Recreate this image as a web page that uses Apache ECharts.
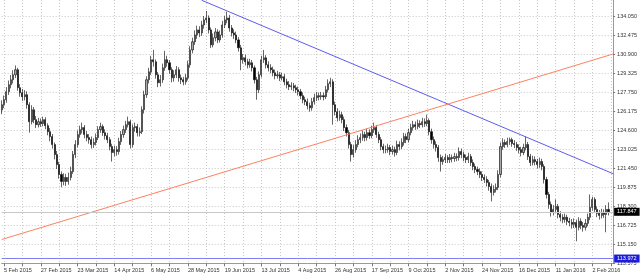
<!DOCTYPE html>
<html>
<head>
<meta charset="utf-8">
<script src="https://cdn.jsdelivr.net/npm/echarts@6/dist/echarts.min.js"></script>
<style>
html,body{margin:0;padding:0;background:#fff;}
#chart{width:640px;height:277px;}
</style>
</head>
<body>
<div id="chart"></div>
<script>
// ---- data ----
const firstDate = '2015-02-04';
const categoryCount = 267;
const holidays = ['2015-12-25', '2016-01-01'];

const opens = [
126.30,126.74,127.15,127.82,128.40,128.81,129.22,129.64,128.15,127.73,
127.40,127.57,126.74,125.33,126.32,125.50,125.08,125.33,125.17,125.50,
125.00,124.50,124.09,123.43,122.60,121.77,120.95,120.37,120.70,120.37,
120.70,121.19,122.60,123.43,124.26,124.67,124.84,124.26,124.01,123.84,
123.43,123.60,124.01,124.67,124.92,124.42,124.17,123.84,123.26,122.77,
123.01,122.85,123.68,124.26,124.67,125.08,125.33,123.43,124.84,124.92,
124.42,124.50,126.32,127.57,128.81,129.47,130.47,130.30,129.22,128.56,
128.81,129.80,130.47,130.22,129.64,128.97,129.22,129.64,128.97,128.81,
128.64,128.97,130.05,131.29,131.96,132.53,132.95,132.70,133.36,133.78,
133.94,132.95,131.71,132.29,132.78,132.12,132.53,133.36,133.78,133.94,
133.11,132.70,132.53,132.12,131.46,130.47,130.63,130.30,130.05,130.22,
129.80,128.81,127.98,129.22,130.47,130.63,130.05,129.80,129.64,129.39,
129.14,129.22,128.97,129.06,128.64,128.40,128.23,128.31,128.15,127.98,
127.82,127.49,127.15,126.99,126.66,126.49,126.99,127.32,127.49,127.40,
127.49,127.40,127.98,128.48,128.64,126.74,126.16,125.66,125.91,125.50,
124.84,124.42,123.43,122.60,123.01,123.43,123.84,124.01,124.26,124.01,
124.42,124.17,124.67,124.84,124.26,123.84,123.26,123.01,123.01,123.18,
122.85,123.01,122.77,123.43,123.26,123.60,124.09,123.84,124.42,124.84,
125.08,124.92,125.17,125.08,125.33,125.17,125.42,124.50,123.84,123.43,
123.18,122.35,122.02,122.18,122.35,122.18,122.35,122.27,122.43,122.35,
122.85,122.60,122.35,122.18,122.43,121.94,121.61,121.36,121.19,120.95,
120.70,120.53,120.28,119.95,119.46,119.70,119.87,120.95,123.26,123.60,
123.43,123.68,123.84,123.51,123.43,123.18,123.01,122.77,123.18,123.43,
122.43,121.94,122.18,122.02,121.77,122.02,121.61,120.53,119.29,118.46,
117.80,118.05,118.30,117.63,117.39,117.22,117.39,117.06,116.97,116.81,
116.97,116.56,117.06,116.72,116.56,116.89,117.39,118.21,118.88,118.05,
117.72,117.55,117.80,117.63,118.05
];
const closes = [
126.74,127.15,127.82,128.40,128.81,129.22,129.64,128.15,127.73,127.40,
127.57,126.74,125.33,126.32,125.50,125.08,125.33,125.17,125.50,125.00,
124.50,124.09,123.43,122.60,121.77,120.95,120.37,120.70,120.37,120.70,
121.19,122.60,123.43,124.26,124.67,124.84,124.26,124.01,123.84,123.43,
123.60,124.01,124.67,124.92,124.42,124.17,123.84,123.26,122.77,123.01,
122.85,123.68,124.26,124.67,125.08,125.33,123.43,124.84,124.92,124.42,
124.50,126.32,127.57,128.81,129.47,130.47,130.30,129.22,128.56,128.81,
129.80,130.47,130.22,129.64,128.97,129.22,129.64,128.97,128.81,128.64,
128.97,130.05,131.29,131.96,132.53,132.95,132.70,133.36,133.78,133.94,
132.95,131.71,132.29,132.78,132.12,132.53,133.36,133.78,133.94,133.11,
132.70,132.53,132.12,131.46,130.47,130.63,130.30,130.05,130.22,129.80,
128.81,127.98,129.22,130.47,130.63,130.05,129.80,129.64,129.39,129.14,
129.22,128.97,129.06,128.64,128.40,128.23,128.31,128.15,127.98,127.82,
127.49,127.15,126.99,126.66,126.49,126.99,127.32,127.49,127.40,127.49,
127.40,127.98,128.48,128.64,126.74,126.16,125.66,125.91,125.50,124.84,
124.42,123.43,122.60,123.01,123.43,123.84,124.01,124.26,124.01,124.42,
124.17,124.67,124.84,124.26,123.84,123.26,123.01,123.01,123.18,122.85,
123.01,122.77,123.43,123.26,123.60,124.09,123.84,124.42,124.84,125.08,
124.92,125.17,125.08,125.33,125.17,125.42,124.50,123.84,123.43,123.18,
122.35,122.02,122.18,122.35,122.18,122.35,122.27,122.43,122.35,122.85,
122.60,122.35,122.18,122.43,121.94,121.61,121.36,121.19,120.95,120.70,
120.53,120.28,119.95,119.46,119.70,119.87,120.95,123.26,123.60,123.43,
123.68,123.84,123.51,123.43,123.18,123.01,122.77,123.18,123.43,122.43,
121.94,122.18,122.02,121.77,122.02,121.61,120.53,119.29,118.46,117.80,
118.05,118.30,117.63,117.39,117.22,117.39,117.06,116.97,116.81,116.97,
116.56,117.06,116.72,116.56,116.89,117.39,118.21,118.88,118.05,117.72,
117.55,117.80,117.63,118.05,117.85
];
const lows = [
125.95,126.45,126.90,127.55,128.10,128.50,128.95,127.90,127.40,127.05,
127.10,126.40,124.42,125.10,125.20,124.80,124.85,124.90,124.95,124.70,
124.20,123.70,123.10,122.20,121.40,120.60,119.89,120.05,120.00,120.10,
120.45,121.00,122.30,123.20,124.00,124.35,123.95,123.70,123.50,123.10,
123.15,123.35,123.80,124.40,124.15,123.85,123.55,122.95,122.02,122.45,
122.50,122.60,123.40,124.00,124.40,124.85,123.10,123.20,124.50,124.10,
124.10,124.30,126.00,127.30,128.50,129.20,129.90,128.90,128.20,128.25,
128.55,129.55,129.90,129.30,128.60,128.65,128.95,128.65,128.45,128.35,
128.40,128.75,129.80,131.00,131.70,132.20,132.35,132.45,133.05,133.50,
132.65,131.45,131.50,132.00,131.85,131.90,132.30,133.10,133.50,132.80,
132.40,132.20,131.85,131.15,129.60,130.15,130.00,129.75,129.80,129.50,
128.50,127.15,127.70,129.00,130.20,129.75,129.50,129.35,129.10,128.85,
128.90,128.70,128.75,128.35,128.10,127.95,127.95,127.85,127.70,127.50,
127.20,126.85,126.70,126.35,126.16,126.25,126.75,127.05,127.10,127.15,
127.10,127.20,127.75,128.20,125.08,125.85,125.35,125.40,125.20,124.55,
124.10,123.10,122.02,122.35,122.75,123.20,123.55,123.75,123.70,123.75,
123.90,123.95,124.40,124.00,123.55,122.95,122.70,122.70,122.75,122.55,
122.60,122.43,122.55,122.95,123.05,123.35,123.55,123.60,124.20,124.60,
124.65,124.70,124.80,124.85,124.90,124.95,124.20,123.50,123.10,122.85,
122.00,121.19,121.75,121.90,121.90,121.90,121.95,122.00,122.05,122.10,
122.30,122.05,121.90,121.90,121.65,121.30,121.05,120.90,120.65,120.40,
120.25,119.95,119.60,118.71,119.20,119.45,119.65,120.70,123.00,123.15,
123.20,123.40,123.25,123.15,122.90,122.70,122.45,122.55,122.95,122.15,
121.65,121.70,121.70,121.45,121.50,121.30,120.20,118.95,118.10,117.45,
117.55,117.80,117.30,117.05,116.90,116.95,116.75,116.65,116.45,116.50,
115.40,116.30,116.40,116.20,116.30,116.65,117.15,117.95,117.75,117.40,
117.20,117.30,117.35,116.15,117.55
];
const highs = [
127.10,127.50,128.20,128.75,129.20,129.60,130.00,129.80,128.45,128.05,
127.95,127.85,126.95,126.70,126.55,125.80,125.65,125.60,125.75,125.70,
125.20,124.80,124.30,123.60,122.90,122.00,121.20,121.05,121.00,121.10,
121.60,122.90,123.80,124.60,125.00,125.25,125.05,124.55,124.30,124.10,
123.95,124.35,124.95,125.25,125.10,124.70,124.40,124.05,123.50,123.35,
123.30,124.00,124.55,125.00,125.40,125.75,125.50,125.10,125.25,125.15,
124.85,126.60,127.90,129.10,129.80,130.80,131.29,130.50,129.45,129.20,
130.15,131.21,130.80,130.45,129.85,129.60,129.95,129.85,129.25,129.05,
129.30,130.40,131.60,132.30,132.90,133.30,133.25,133.70,134.10,134.52,
134.15,133.15,132.65,133.10,133.00,132.90,133.70,134.10,134.46,134.20,
133.35,133.00,132.80,132.35,131.70,130.95,130.90,130.55,130.55,130.45,
130.00,129.05,129.50,130.80,131.29,130.85,130.35,130.10,129.90,129.65,
129.55,129.45,129.40,129.30,128.90,128.70,128.60,128.55,128.40,128.25,
128.05,127.75,127.40,127.25,126.90,127.30,127.65,127.80,127.75,127.80,
127.75,128.30,128.85,128.97,128.85,127.00,126.45,126.25,126.15,125.75,
125.10,124.65,123.65,123.40,123.80,124.20,124.35,124.60,124.50,124.75,
124.70,125.00,125.25,125.05,124.50,124.05,123.50,123.35,123.50,123.40,
123.35,123.25,123.75,123.70,123.95,124.40,124.35,124.75,125.15,125.40,
125.35,125.50,125.45,125.65,125.60,125.91,125.60,124.75,124.10,123.70,
123.40,122.60,122.50,122.65,122.55,122.65,122.60,122.75,122.70,123.20,
123.10,122.85,122.60,122.75,122.65,122.20,121.85,121.60,121.45,121.20,
120.95,120.80,120.50,120.20,120.05,120.20,121.30,123.60,123.95,123.85,
124.00,124.01,124.00,123.80,123.65,123.45,123.25,123.50,124.09,123.65,
122.65,122.50,122.45,122.25,122.35,122.25,121.80,120.75,119.50,118.70,
118.40,118.88,118.50,117.90,117.65,117.70,117.60,117.35,117.25,117.30,
117.20,117.40,117.30,117.00,117.25,117.70,119.29,119.10,119.05,118.30,
118.00,118.10,118.05,118.40,118.63
];

const yTicks = [113.575,115.150,116.725,118.300,119.875,121.450,123.025,124.600,126.175,127.750,129.325,130.900,132.475,134.050];
const yMin = 113.575, yMax = 135.43;

const lastPrice = 117.847;
const levelPrice = 113.972;

// trend lines: [date, price]
const blueTrend = [['5 Jun 2015', 135.41], ['15 Feb 2016', 121.01]];
const orangeTrend = [['4 Feb 2015', 115.55], ['15 Feb 2016', 130.95]];

// ---- categories (trading days) ----
const months = ['Jan','Feb','Mar','Apr','May','Jun','Jul','Aug','Sep','Oct','Nov','Dec'];
const dates = [];
{
  const d = new Date(firstDate + 'T12:00:00Z');
  while (dates.length < categoryCount) {
    const wd = d.getUTCDay();
    const iso = d.toISOString().slice(0, 10);
    if (wd !== 0 && wd !== 6 && holidays.indexOf(iso) < 0) {
      dates.push(d.getUTCDate() + ' ' + months[d.getUTCMonth()] + ' ' + d.getUTCFullYear());
    }
    d.setUTCDate(d.getUTCDate() + 1);
  }
}
const candles = opens.map((o, i) => [o, closes[i], lows[i], highs[i]]);

const font = 'Liberation Sans';
const chart = echarts.init(document.getElementById('chart'), null, {renderer: 'canvas'});
chart.setOption({
  animation: false,
  backgroundColor: '#ffffff',
  grid: {left: 1.7, right: 25.25, top: 0, bottom: 13.7},
  xAxis: {
    type: 'category',
    data: dates,
    boundaryGap: false,
    axisLine: {show: true, lineStyle: {color: '#9a9a9a', width: 1}},
    axisTick: {show: true, interval: (i) => (i - 1) % 8 === 0, length: 3, lineStyle: {color: '#777'}},
    axisLabel: {
      interval: (i) => (i - 1) % 16 === 0,
      align: 'left', fontSize: 5.5, fontFamily: font, color: '#333', margin: 4
    },
    splitLine: {show: true, interval: (i) => (i - 1) % 8 === 0, lineStyle: {color: '#c8c8c8', type: [1, 2], width: 1}}
  },
  yAxis: {
    type: 'value',
    position: 'right',
    min: yMin, max: yMax,
    axisLine: {show: true, lineStyle: {color: '#9a9a9a', width: 1}},
    axisTick: {show: true, customValues: yTicks, length: 2, lineStyle: {color: '#777'}},
    axisLabel: {customValues: yTicks, formatter: (v) => v.toFixed(3), fontSize: 5.5, fontFamily: font, color: '#333', margin: 4},
    splitLine: {show: true, lineStyle: {color: '#c8c8c8', type: [1, 2], width: 1}}
  },
  series: [
    {
      type: 'candlestick',
      data: candles,
      barWidth: 1.6,
      itemStyle: {color: '#a8a8a8', color0: '#000000', borderColor: '#000000', borderColor0: '#000000', borderWidth: 0.6},
      markLine: {
        symbol: 'none', silent: true, animation: false,
        data: [
          {yAxis: lastPrice, lineStyle: {color: '#c8c8c8', type: 'solid', width: 1},
           label: {show: true, position: 'end', distance: 1, formatter: lastPrice.toFixed(3), backgroundColor: '#000', color: '#fff', fontSize: 5.5, fontFamily: font, padding: [1, 3, 1, 3]}},
          {yAxis: levelPrice, lineStyle: {color: '#7f7ff5', type: 'solid', width: 1},
           label: {show: true, position: 'end', distance: 1, formatter: levelPrice.toFixed(3), backgroundColor: '#1c1cd8', color: '#fff', fontSize: 5.5, fontFamily: font, padding: [1, 3, 1, 3]}}
        ]
      }
    },
    {
      type: 'line', data: blueTrend, symbol: 'none', clip: true,
      lineStyle: {color: '#5c5cef', width: 1}
    },
    {
      type: 'line', data: orangeTrend, symbol: 'none', clip: true,
      lineStyle: {color: '#ff8060', width: 1}
    }
  ]
});
</script>
</body>
</html>
